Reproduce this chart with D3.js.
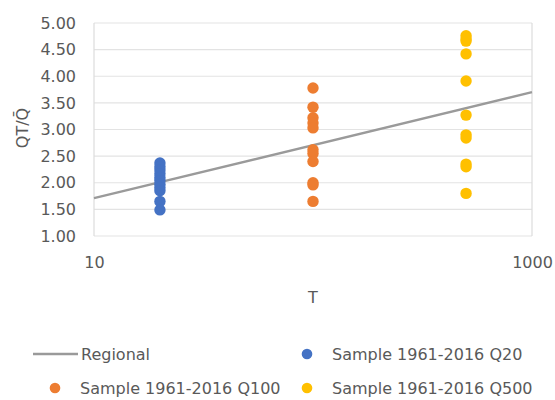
<!DOCTYPE html>
<html lang="en">
<head>
<meta charset="utf-8">
<title>QT/Q vs T</title>
<script src="https://cdn.jsdelivr.net/npm/d3@7"></script>
<style>
  body { margin: 0; background: #fff; }
  text { font-family: "DejaVu Sans", sans-serif; fill: #595959; }
</style>
</head>
<body>
<svg id="chart" width="555" height="400"></svg>
<script>
// return periods for each sample series
var periods = [20, 100, 500];
var yTicks = [1.00, 1.50, 2.00, 2.50, 3.00, 3.50, 4.00, 4.50, 5.00];
var xTicks = [10, 1000];

// regional growth curve end points
var regionalT = [10, 1000];
var regionalQ = [1.71, 3.70];

// station samples
var q20 = [2.37, 2.30, 2.24, 2.17, 2.10, 2.04, 1.97, 1.91, 1.85, 1.65, 1.49];
var q100 = [3.78, 3.42, 3.22, 3.12, 3.03, 2.62, 2.55, 2.40, 2.00, 1.96, 1.65];
var q500 = [4.76, 4.70, 4.66, 4.42, 3.91, 3.27, 2.90, 2.84, 2.35, 2.30, 1.80];

var seriesNames = ["Sample 1961-2016 Q20", "Sample 1961-2016 Q100", "Sample 1961-2016 Q500"];
var colors = ["#4472c4", "#ed7d31", "#ffc000"];

var svg = d3.select("#chart");
var m = {left: 94, right: 532, top: 23, bottom: 236};

var x = d3.scaleLog().domain([10, 1000]).range([m.left, m.right]);
var y = d3.scaleLinear().domain([1, 5]).range([m.bottom, m.top]);

// gridlines
svg.append("g")
  .selectAll("line")
  .data(yTicks)
  .join("line")
  .attr("x1", m.left).attr("x2", m.right)
  .attr("y1", function(d) { return y(d); })
  .attr("y2", function(d) { return y(d); })
  .attr("stroke", "#e3e3e3")
  .attr("stroke-width", 1.2);

// plot frame sides
svg.append("line").attr("x1", m.left).attr("x2", m.left)
  .attr("y1", m.top).attr("y2", m.bottom).attr("stroke", "#dcdcdc").attr("stroke-width", 1.2);
svg.append("line").attr("x1", m.right).attr("x2", m.right)
  .attr("y1", m.top).attr("y2", m.bottom).attr("stroke", "#dcdcdc").attr("stroke-width", 1.2);

// axes
var yAxis = d3.axisLeft(y).tickValues(yTicks).tickSize(0).tickPadding(18)
  .tickFormat(d3.format(".2f"));
svg.append("g").attr("transform", "translate(" + m.left + ",0)").call(yAxis)
  .call(function(g) { g.select(".domain").remove(); })
  .selectAll("text").style("font-size", "16px").attr("fill", "#595959");

var xAxis = d3.axisBottom(x).tickValues(xTicks).tickSize(0).tickPadding(21)
  .tickFormat(d3.format("d"));
svg.append("g").attr("transform", "translate(0," + m.bottom + ")").call(xAxis)
  .call(function(g) { g.select(".domain").remove(); })
  .selectAll("text").style("font-size", "16px").attr("fill", "#595959");

// axis titles
svg.append("text")
  .attr("transform", "translate(22,128) rotate(-90)")
  .attr("text-anchor", "middle").attr("dy", "0.35em")
  .style("font-size", "16px")
  .text("QT/Q\u0304");

svg.append("text")
  .attr("x", (m.left + m.right) / 2).attr("y", 297)
  .attr("text-anchor", "middle").attr("dy", "0.35em")
  .style("font-size", "16px")
  .text("T");

// regional line
var line = d3.line()
  .x(function(d) { return x(d[0]); })
  .y(function(d) { return y(d[1]); });
svg.append("path")
  .datum(d3.zip(regionalT, regionalQ))
  .attr("d", line)
  .attr("fill", "none")
  .attr("stroke", "#9a9a9a")
  .attr("stroke-width", 2.3);

// sample points
var samples = [q20, q100, q500];
samples.forEach(function(vals, i) {
  svg.append("g")
    .selectAll("circle")
    .data(vals)
    .join("circle")
    .attr("cx", x(periods[i]))
    .attr("cy", function(d) { return y(d); })
    .attr("r", 5.7)
    .attr("fill", colors[i]);
});

// legend
var leg = svg.append("g").style("font-size", "16px");
leg.append("line").attr("x1", 33).attr("x2", 78).attr("y1", 354).attr("y2", 354)
  .attr("stroke", "#9a9a9a").attr("stroke-width", 2.3);
leg.append("text").attr("x", 81).attr("y", 354).attr("dy", "0.35em").text("Regional");

var legPos = [[307, 354], [55, 388], [307, 388]];
seriesNames.forEach(function(name, i) {
  leg.append("circle").attr("cx", legPos[i][0]).attr("cy", legPos[i][1])
    .attr("r", 5.3).attr("fill", colors[i]);
  leg.append("text").attr("x", legPos[i][0] + 25).attr("y", legPos[i][1])
    .attr("dy", "0.35em").text(name);
});
</script>
</body>
</html>
